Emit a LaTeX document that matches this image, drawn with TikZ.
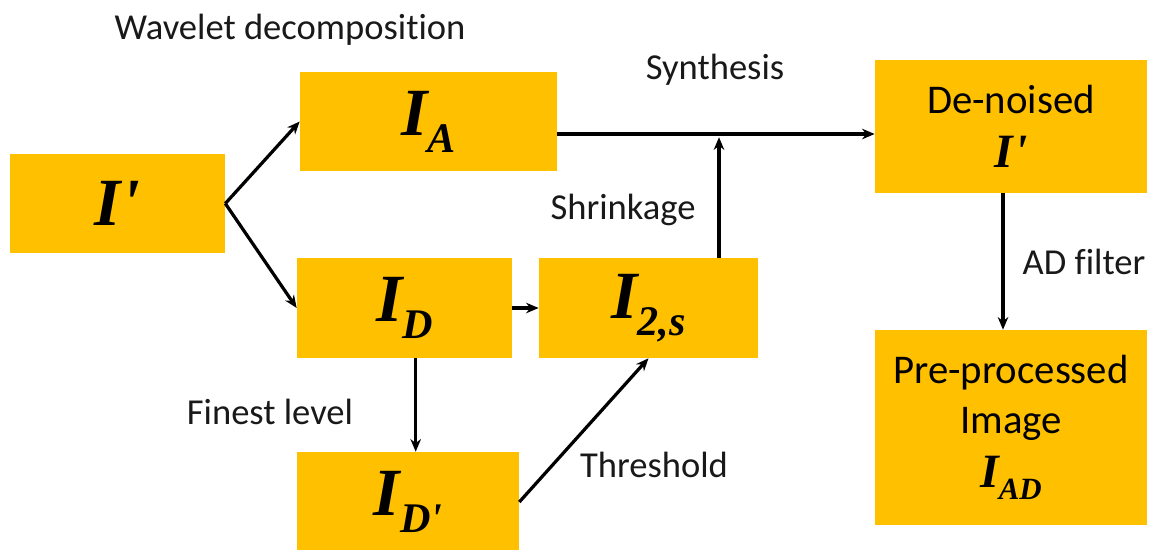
\documentclass[tikz,border=0pt]{standalone}
\usepackage{fontspec}
\setmainfont{Carlito}[Ligatures={TeX,CommonOff}]
\newfontfamily\timesf{Liberation Serif}
\usepackage{tikz}
\usetikzlibrary{positioning,arrows.meta,calc}

\definecolor{blkgold}{HTML}{FFC000}
% bold italic symbol with lowered subscript
\newcommand{\isym}[4]{{\timesf\bfseries\itshape\fontsize{#1}{#1}\selectfont I\raisebox{-#3}{\fontsize{#2}{#2}\selectfont #4}}}
\newcommand{\iprime}[1]{{\timesf\bfseries\itshape\fontsize{#1}{#1}\selectfont I\kern1pt\symbol{"27}}}

\begin{document}
\begin{tikzpicture}[
  x=0.025cm, y=-0.025cm,
  font=\fontsize{26}{31}\selectfont,
  >={Stealth[length=9pt,width=7.5pt]},
  blk/.style={fill=blkgold, inner sep=0pt, align=center, font=\fontsize{29}{36}\selectfont},
  flow/.style={->, draw=black, line width=2.3pt},
  lbl/.style={inner sep=0pt, text=black!90}
]
  \useasboundingbox (0,0) rectangle (1159,549);

  \node[blk, minimum width=5.375cm, minimum height=2.475cm] (iin) at (117.5,203.5) {\iprime{48pt}};
  \node[blk, minimum width=6.425cm, minimum height=2.475cm] (ia)  at (428.5,121.5) {\isym{48pt}{30pt}{12pt}{A}};
  \node[blk, minimum width=5.375cm, minimum height=2.5cm]   (id)  at (404.5,308)   {\isym{48pt}{30pt}{12pt}{D}};
  \node[blk, minimum width=5.475cm, minimum height=2.5cm]   (i2s) at (648.5,308)   {\isym{48pt}{30pt}{12pt}{2,s}};
  \node[blk, minimum width=5.55cm,  minimum height=2.5cm]   (idp) at (408,502)     {\isym{48pt}{30pt}{12pt}{D\symbol{"27}}};
  \node[blk, minimum width=6.8cm,   minimum height=3.325cm] (den) at (1011,126.5)  {De-noised\\[2pt]\iprime{34pt}};
  \node[blk, minimum width=6.8cm,   minimum height=4.875cm] (pre) at (1011,427.5)  {Pre-processed\\Image\\[2pt]\isym{34pt}{22pt}{9pt}{AD}};

  \coordinate (synth) at (719,134);

  \draw[flow] (iin.east) -- (ia.west);
  \draw[flow] (iin.east) -- (id.west);
  \draw[flow] (id.east) -- (i2s.west);
  \draw[flow] ([xshift=0.28cm]id.south) -- ([xshift=0.28cm]id.south |- idp.north);
  \draw[flow] (idp.east) -- (i2s.south);
  \draw[flow] (ia.east |- synth) -- (den.west |- synth);
  \draw[flow] (synth |- i2s.north) -- ([yshift=-0.08cm]synth);
  \draw[flow] ([xshift=-0.2cm]den.south) -- ([xshift=-0.2cm]den.south |- pre.north);

  \node[lbl] (lwav) at (290,30)  {Wavelet decomposition};
  \node[lbl] (lsyn) at (715,70)  {Synthesis};
  \node[lbl] (lshr) at (623,210) {Shrinkage};
  \node[lbl] (lad)  at (1084,262) {AD filter};
  \node[lbl] (lfin) at (270,412) {Finest level};
  \node[lbl] (lthr) at (654,465) {Threshold};
\end{tikzpicture}
\end{document}
